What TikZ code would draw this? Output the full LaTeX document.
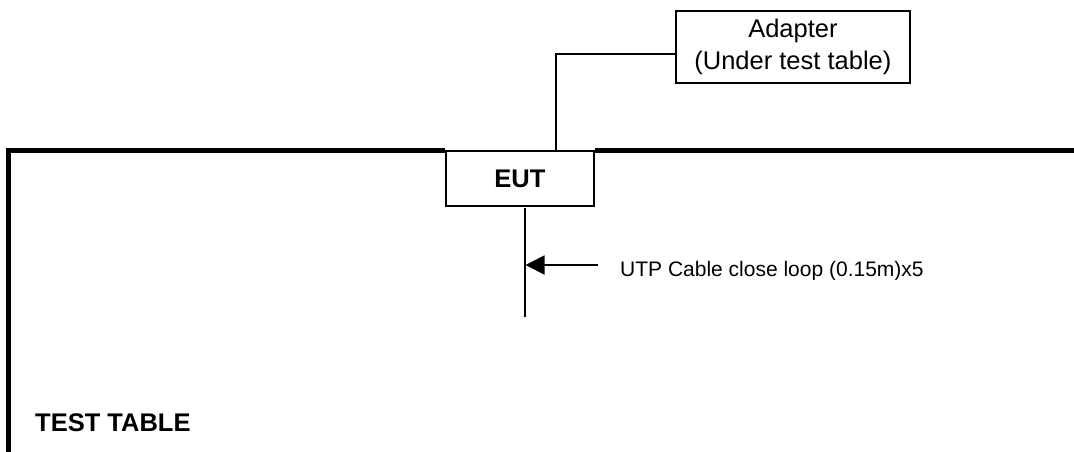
\documentclass[tikz,border=0pt]{standalone}
\usepackage{fontspec}
\setmainfont{Liberation Sans}
\usetikzlibrary{arrows.meta}
\begin{document}
\begin{tikzpicture}[x=1pt, y=-1pt,
  wire/.style={line width=1.8pt},
  edge/.style={line width=5pt, line join=miter},
  unit/.style={draw, line width=1.8pt, fill=white, inner sep=0pt, anchor=north west},
  big/.style={font=\fontsize{25.5}{31.5}\selectfont},
  small/.style={font=\fontsize{21}{25}\selectfont},
  tip/.style={-{Triangle[length=19pt, width=19pt]}}]
\useasboundingbox (0,0) rectangle (1074,451);

% equipment under test, sitting on the table edge
\node[unit, big, minimum width=148pt, minimum height=55pt] (eut) at (445,150) {\textbf{EUT}};

% power adapter placed under the table
\node[unit, big, align=center, minimum width=234pt, minimum height=72pt] (adapter) at (675,10)
  {Adapter\\(Under test table)};

% adapter lead
\draw[wire] ([yshift=-7pt]adapter.west) -| ([xshift=36pt]eut.north);

% test table outline
\coordinate (tr) at (1077,150);
\coordinate (tl) at (8.5,150);
\coordinate (bl) at (8.5,454);
\draw[edge] (tr) -- (eut.north east);
\draw[edge] (eut.north west) -- (tl) -- (bl);

% looped UTP cable
\coordinate (cabletop) at (524.7,208);
\coordinate (cablebot) at (524.7,317);
\draw[wire] (cabletop) -- (cablebot);
\coordinate (tail) at (598,265);
\coordinate (hit) at (525.5,265);
\draw[wire, tip] (tail) -- (hit);
\begin{scope}
  \clip (600,240) rectangle (960,279);
  \node[small, anchor=base west, inner sep=0pt] (utp) at (620,276.7) {UTP Cable close loop (0.15m)x5};
\end{scope}

\node[big, anchor=base west, inner sep=0pt] (table) at (35,431.7) {\textbf{TEST TABLE}};
\end{tikzpicture}
\end{document}
